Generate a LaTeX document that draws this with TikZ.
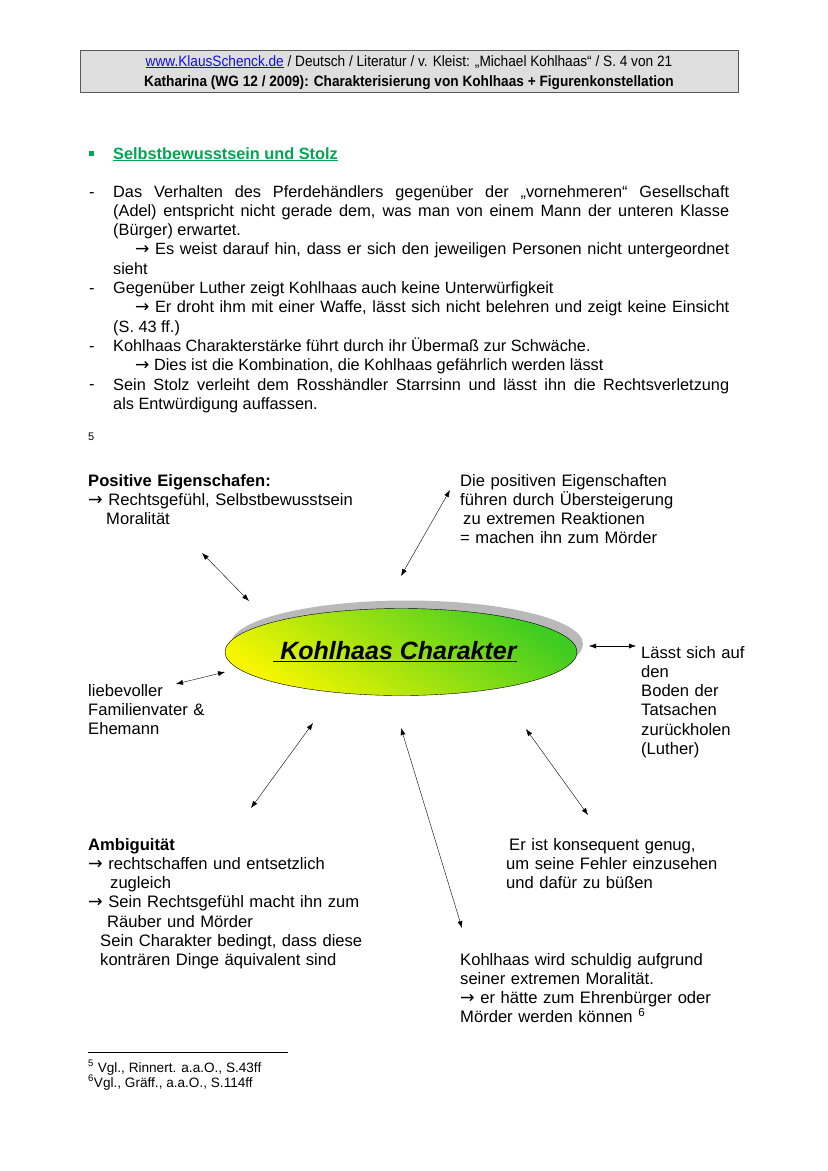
\documentclass[tikz,border=0pt]{standalone}
\usepackage{fontspec}
\setmainfont{Liberation Sans}
\newfontfamily\narrowfont[FakeStretch=0.91]{Liberation Sans}
\newfontfamily\arrowfont[Scale=1.05]{DejaVu Sans}
\newcommand{\arr}{{\arrowfont →}}
\usetikzlibrary{arrows.meta,shapes.geometric,shadows}
\definecolor{headgray}{HTML}{DEDEDE}
\definecolor{titlegreen}{HTML}{00A651}
\definecolor{linkblue}{HTML}{1010E0}
\definecolor{ovalyellow}{HTML}{F6F600}
\definecolor{ovalgreen}{HTML}{3ECC22}

\tikzset{
  txt/.style={anchor=base west, inner sep=0pt, align=left, text width=300pt,
    font=\fontsize{16.6}{19.3}\selectfont},
  bodytxt/.style={anchor=base west, inner sep=0pt,
    font=\fontsize{16.3}{19.3}\selectfont},
  link/.style={<->, thin},
}

\begin{document}
\begin{tikzpicture}[x=1pt, y=-1pt, >={Latex[length=7pt,width=5pt]}]
  \useasboundingbox (0,0) rectangle (828,1171);
  \fill[white] (0,0) rectangle (828,1171);

  % Kopfzeile
  \draw[gray!70!black, fill=headgray] (80,50) rectangle (738,92);
  \node[anchor=base, inner sep=0pt, font=\narrowfont\fontsize{15}{18}\selectfont] (head1) at (409,66)
    {{\color{linkblue}\underline{www.KlausSchenck.de}} / Deutsch / Literatur / v. Kleist: „Michael Kohlhaas“ / S. 4 von 21};
  \node[anchor=base, inner sep=0pt, font=\narrowfont\bfseries\fontsize{15}{18}\selectfont] (head2) at (409,86)
    {Katharina (WG 12 / 2009): Charakterisierung von Kohlhaas + Figurenkonstellation};

  % Abschnitt
  \fill[titlegreen] (88.5,150.5) rectangle (94,156);
  \node[bodytxt, font=\bfseries\fontsize{16.3}{19.3}\selectfont, text=titlegreen] (title) at (113,159)
    {\underline{Selbstbewusstsein und Stolz}};

  \foreach \y in {197,293,351,389}
    \node[bodytxt] at (89,\y) {-};
  \node[bodytxt, text width=616pt, align=justify] (body) at (113,197)
    {\hyphenpenalty=10000\tolerance=9999
     Das Verhalten des Pferdehändlers gegenüber der „vornehmeren“ Gesellschaft\linebreak
     (Adel) entspricht nicht gerade dem, was man von einem Mann der unteren Klasse\linebreak
     (Bürger) erwartet.\\
     \hspace*{22pt}\arr\ Es weist darauf hin, dass er sich den jeweiligen Personen nicht untergeordnet\linebreak
     sieht\\
     Gegenüber Luther zeigt Kohlhaas auch keine Unterwürfigkeit\\
     \hspace*{22pt}\arr\ Er droht ihm mit einer Waffe, lässt sich nicht belehren und zeigt keine Einsicht\linebreak
     (S. 43 ff.)\\
     Kohlhaas Charakterstärke führt durch ihr Übermaß zur Schwäche.\\
     \hspace*{22pt}\arr\ Dies ist die Kombination, die Kohlhaas gefährlich werden lässt\\
     Sein Stolz verleiht dem Rosshändler Starrsinn und lässt ihn die Rechtsverletzung\linebreak
     als Entwürdigung auffassen.};
  \node[anchor=base west, inner sep=0pt, font=\fontsize{11}{13}\selectfont] (fn5mark) at (88,440) {5};

  % Schaubild
  \node[ellipse, draw, thin, minimum width=352pt, minimum height=87pt, inner sep=0pt,
        top color=ovalgreen, bottom color=ovalyellow, shading angle=-35,
        drop shadow={shadow xshift=6pt, shadow yshift=8pt, fill=gray!55, opacity=1},
        font=\bfseries\itshape\fontsize{25}{30}\selectfont] (oval) at (401,652)
    {\makebox[0pt]{\underline{\ Kohlhaas Charakter}\hspace*{12pt}}};

  \node[txt] (positiv) at (88,486)
    {\textbf{Positive Eigenschafen:}\\\arr\ Rechtsgefühl, Selbstbewusstsein\\\hspace*{18pt}Moralität};
  \node[txt] (steigerung) at (460,486)
    {Die positiven Eigenschaften\\führen durch Übersteigerung\\\hspace*{3pt}zu extremen Reaktionen\\= machen ihn zum Mörder};
  \node[txt] (familie) at (88,696)
    {liebevoller\\Familienvater \&\\Ehemann};
  \node[txt] (luther) at (641,658)
    {Lässt sich auf\\den\\Boden der\\Tatsachen\\zurückholen\\(Luther)};
  \node[txt] (ambig) at (88,850)
    {\textbf{Ambiguität}\\\arr\ rechtschaffen und entsetzlich\\\hspace*{22pt}zugleich\\\arr\ Sein Rechtsgefühl macht ihn zum\\\hspace*{19pt}Räuber und Mörder\\\hspace*{12pt}Sein Charakter bedingt, dass diese\\\hspace*{12pt}konträren Dinge äquivalent sind};
  \node[txt] (konsequent) at (506,850)
    {\hspace*{3pt}Er ist konsequent genug,\\um seine Fehler einzusehen\\und dafür zu büßen};
  \node[txt] (schuld) at (460,965)
    {Kohlhaas wird schuldig aufgrund\\seiner extremen Moralität.\\\arr\ er hätte zum Ehrenbürger oder\\Mörder werden können \textsuperscript{6}};

  % Pfeilenden
  \coordinate (p1) at (202,553);  \coordinate (p2) at (249,601);
  \coordinate (s1) at (450,490);  \coordinate (s2) at (401,576);
  \coordinate (l1) at (589,646);  \coordinate (l2) at (636,646);
  \coordinate (f1) at (176,684);  \coordinate (f2) at (225,672);
  \coordinate (a1) at (251,808);  \coordinate (a2) at (313,723);
  \coordinate (m1) at (401,728);  \coordinate (m2) at (462,928);
  \coordinate (k1) at (526,729);  \coordinate (k2) at (588,815);
  \draw[link] (p1) -- (p2);
  \draw[link] (s1) -- (s2);
  \draw[link] (l1) -- (l2);
  \draw[link] (f1) -- (f2);
  \draw[link] (a1) -- (a2);
  \draw[link] (m1) -- (m2);
  \draw[link] (k1) -- (k2);

  % Fussnoten
  \draw[thin] (88,1052) -- (288,1052);
  \node[anchor=base west, inner sep=0pt, font=\fontsize{13.6}{16}\selectfont] (fn5) at (88,1072)
    {\textsuperscript{5} Vgl., Rinnert. a.a.O., S.43ff};
  \node[anchor=base west, inner sep=0pt, font=\fontsize{13.6}{16}\selectfont] (fn6) at (88,1087)
    {\textsuperscript{6}Vgl., Gräff., a.a.O., S.114ff};
\end{tikzpicture}
\end{document}
